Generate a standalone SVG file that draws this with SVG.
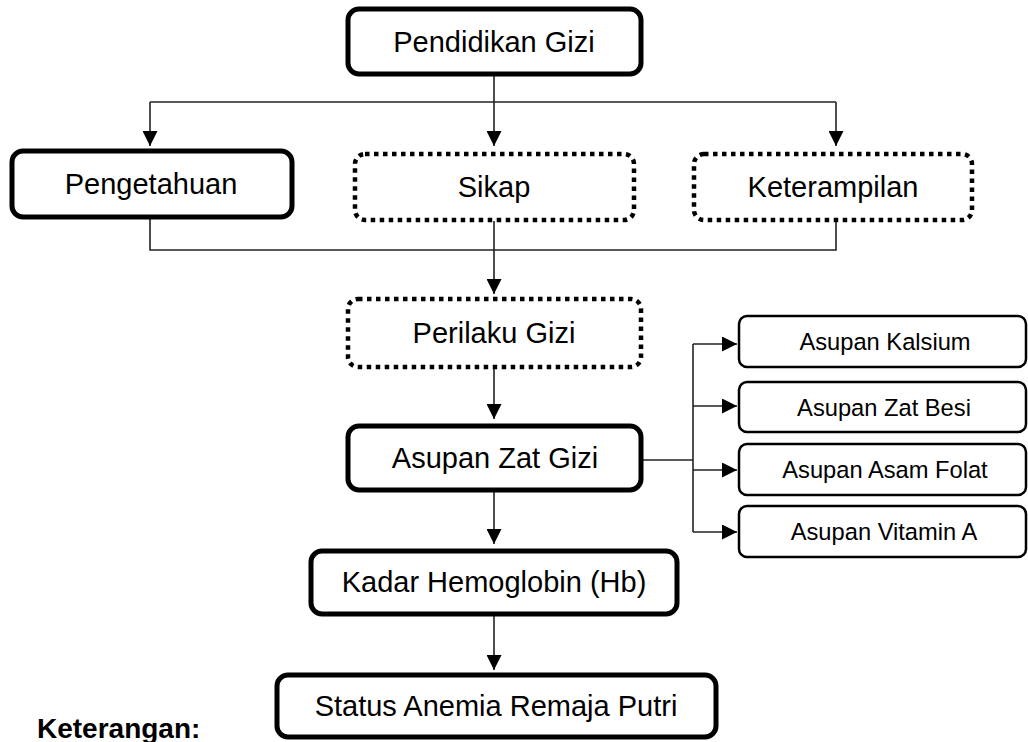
<svg xmlns="http://www.w3.org/2000/svg" width="1028" height="742" viewBox="0 0 1028 742">
<style>
.box{fill:#fff;stroke:#000;stroke-width:5}
.dot{fill:#fff;stroke:#000;stroke-width:4.5;stroke-dasharray:4.5 4.5}
.sm{fill:#fff;stroke:#000;stroke-width:2.5}
.t{font-family:"Liberation Sans",Arial,sans-serif;font-size:29px;fill:#000;text-anchor:middle}
.ts{font-family:"Liberation Sans",Arial,sans-serif;font-size:23.7px;fill:#000;text-anchor:middle}
.c{fill:none;stroke:#222;stroke-width:1.6}
</style>
<defs>
<marker id="ah" markerUnits="userSpaceOnUse" markerWidth="15" markerHeight="15" refX="15" refY="7.5" orient="auto" viewBox="0 0 15 15">
<path d="M0,0 L15,7.5 L0,15 z" fill="#000"/>
</marker>
</defs>
<rect width="1028" height="742" fill="#fff"/>
<g id="connectors">
<path class="c" d="M494,74 V146" marker-end="url(#ah)"/>
<path class="c" d="M150,102 H836"/>
<path class="c" d="M150,102 V146" marker-end="url(#ah)"/>
<path class="c" d="M836,102 V146" marker-end="url(#ah)"/>
<path class="c" d="M150,217 V250 H836 V221"/>
<path class="c" d="M494,221 V294" marker-end="url(#ah)"/>
<path class="c" d="M494,368 V419" marker-end="url(#ah)"/>
<path class="c" d="M642,460 H693"/>
<path class="c" d="M693,344 V532"/>
<path class="c" d="M693,344 H737" marker-end="url(#ah)"/>
<path class="c" d="M693,406 H737" marker-end="url(#ah)"/>
<path class="c" d="M693,470 H737" marker-end="url(#ah)"/>
<path class="c" d="M693,532 H737" marker-end="url(#ah)"/>
<path class="c" d="M494,491 V544" marker-end="url(#ah)"/>
<path class="c" d="M494,615 V670" marker-end="url(#ah)"/>
</g>
<g id="pendidikan">
<rect class="box" x="348" y="9" width="293" height="65" rx="11"/>
<text class="t" x="494" y="52">Pendidikan Gizi</text>
</g>
<g id="pengetahuan">
<rect class="box" x="12" y="151" width="280" height="66" rx="11"/>
<text class="t" x="151" y="194">Pengetahuan</text>
</g>
<g id="sikap">
<rect class="dot" x="355" y="154" width="279" height="66" rx="10"/>
<text class="t" x="494" y="197">Sikap</text>
</g>
<g id="keterampilan">
<rect class="dot" x="694" y="154" width="278" height="66" rx="10"/>
<text class="t" x="833" y="197">Keterampilan</text>
</g>
<g id="perilaku">
<rect class="dot" x="348" y="299" width="293" height="68" rx="10"/>
<text class="t" x="494" y="343">Perilaku Gizi</text>
</g>
<g id="asupan">
<rect class="box" x="348" y="426" width="293" height="64" rx="11"/>
<text class="t" x="495" y="468">Asupan Zat Gizi</text>
</g>
<g id="kalsium">
<rect class="sm" x="739" y="316" width="287" height="51" rx="8"/>
<text class="ts" x="885" y="350">Asupan Kalsium</text>
</g>
<g id="zatbesi">
<rect class="sm" x="739" y="382" width="287" height="50" rx="8"/>
<text class="ts" x="884" y="416">Asupan Zat Besi</text>
</g>
<g id="asamfolat">
<rect class="sm" x="739" y="444" width="287" height="51" rx="8"/>
<text class="ts" x="885" y="478">Asupan Asam Folat</text>
</g>
<g id="vitamina">
<rect class="sm" x="739" y="506" width="287" height="51" rx="8"/>
<text class="ts" x="884" y="540">Asupan Vitamin A</text>
</g>
<g id="kadar">
<rect class="box" x="311" y="551" width="366" height="63" rx="11"/>
<text class="t" x="494" y="592">Kadar Hemoglobin (Hb)</text>
</g>
<g id="status">
<rect class="box" x="277" y="675" width="439" height="62" rx="11"/>
<text class="t" x="496" y="716">Status Anemia Remaja Putri</text>
</g>
<text x="37" y="738" font-family="'Liberation Sans',Arial,sans-serif" font-size="28" font-weight="bold" fill="#000">Keterangan:</text>
</svg>
